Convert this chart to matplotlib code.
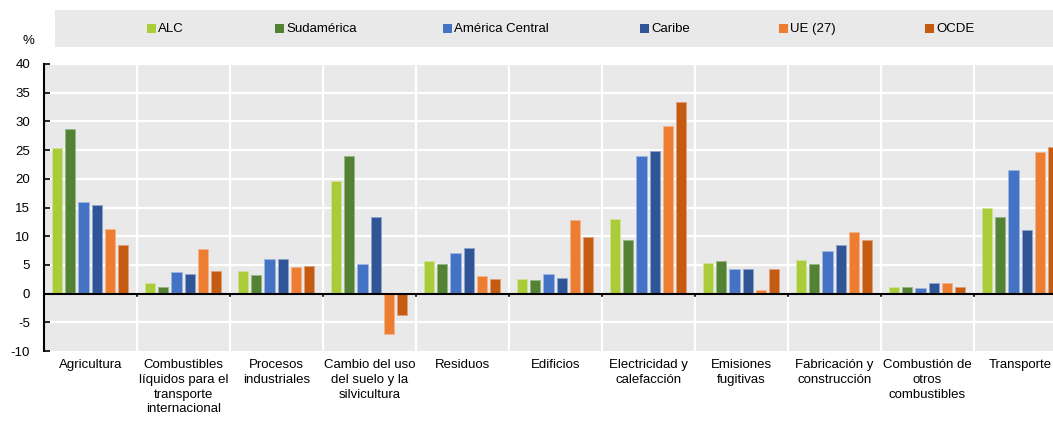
import numpy as np
import matplotlib
matplotlib.use("Agg")
import matplotlib.pyplot as plt
from matplotlib.patches import Rectangle

plt.rcParams['font.family'] = ['Liberation Sans', 'DejaVu Sans']

# Données (en %)
categorias = ["Agricultura",
              "Combustibles\nlíquidos para el\ntransporte\ninternacional",
              "Procesos\nindustriales",
              "Cambio del uso\ndel suelo y la\nsilvicultura",
              "Residuos",
              "Edificios",
              "Electricidad y\ncalefacción",
              "Emisiones\nfugitivas",
              "Fabricación y\nconstrucción",
              "Combustión de\notros\ncombustibles",
              "Transporte"]
series = ["ALC", "Sudamérica", "América Central", "Caribe", "UE (27)", "OCDE"]

alc = [25.4, 1.8, 4.0, 19.6, 5.7, 2.6, 13.0, 5.4, 5.8, 1.2, 15.0]
sudamerica = [28.6, 1.1, 3.3, 24.0, 5.2, 2.4, 9.3, 5.7, 5.2, 1.2, 13.4]
america_central = [16.0, 3.7, 6.0, 5.1, 7.0, 3.4, 23.9, 4.3, 7.4, 1.0, 21.5]
caribe = [15.5, 3.5, 6.0, 13.4, 7.9, 2.7, 24.9, 4.2, 8.4, 1.9, 11.1]
ue27 = [11.2, 7.7, 4.6, -7.0, 3.1, 12.9, 29.2, 0.7, 10.7, 1.9, 24.6]
ocde = [8.5, 4.0, 4.8, -3.8, 2.5, 9.9, 33.3, 4.2, 9.3, 1.1, 25.6]

valores = [alc, sudamerica, america_central, caribe, ue27, ocde]
colores = ["#a9cc38", "#548235", "#4472c4", "#2f5597", "#ed7d31", "#c55a11"]
bordes = ["#cfe39a", "#98b585", "#9fb8e3", "#8fa4cc", "#f5b58c", "#e0a07a"]

W, H = 1053, 424
fig = plt.figure(figsize=(W / 100, H / 100), dpi=100)
ax = fig.add_axes([44 / W, (H - 351) / H, (W - 44) / W, 287 / H])
ax.set_facecolor("#e9e9e9")

x = np.arange(len(categorias))
ancho = 0.108
paso = 0.143
for i, (vals, c, b) in enumerate(zip(valores, colores, bordes)):
    ax.bar(x + (i - 2.5) * paso - 0.004, vals, width=ancho, color=c,
           edgecolor=b, linewidth=0.6, zorder=3)

cat_px = 93.0
ax.set_xlim(-0.5, -0.5 + (W - 44) / cat_px)
ax.set_ylim(-10, 40)
ax.set_yticks(np.arange(-10, 41, 5))
ax.set_yticklabels([str(v) for v in range(-10, 41, 5)], fontsize=9.5)

# rejilla blanca
for yv in range(-5, 41, 5):
    ax.axhline(yv, color="white", linewidth=1.6, zorder=1)
for sep in np.arange(0.5, len(categorias), 1.0):
    ax.axvline(sep, color="white", linewidth=1.6, zorder=1)
    ax.plot([sep, sep], [0, -0.45], color="black", linewidth=1.2, zorder=4)
ax.axhline(0, color="black", linewidth=1.5, zorder=4)

ax.set_xticks(x)
ax.set_xticklabels(categorias, fontsize=9.5, linespacing=1.3, va="top")
ax.tick_params(axis="x", length=0, pad=6)
ax.tick_params(axis="y", direction="in", length=4, width=1.2, pad=10)

for s in ["top", "right", "bottom"]:
    ax.spines[s].set_visible(False)
ax.spines["left"].set_linewidth(1.5)
ax.spines["left"].set_zorder(5)

# leyenda
fig.patches.append(Rectangle((55 / W, (H - 47) / H), (W - 55) / W, 37 / H,
                             transform=fig.transFigure, facecolor="#e9e9e9",
                             edgecolor="none", zorder=0))
pos_leyenda = [147, 275, 443, 640, 779, 925]
for px, nombre, c in zip(pos_leyenda, series, colores):
    fig.patches.append(Rectangle((px / W, (H - 33) / H), 9 / W, 9 / H,
                                 transform=fig.transFigure, facecolor=c,
                                 edgecolor="none", zorder=1))
    fig.text((px + 11) / W, (H - 29) / H, nombre, fontsize=9.5,
             va="center", ha="left")

fig.text(28 / W, (H - 41) / H, "%", fontsize=9.5, ha="center", va="center")

fig.savefig("out.png", dpi=100)
